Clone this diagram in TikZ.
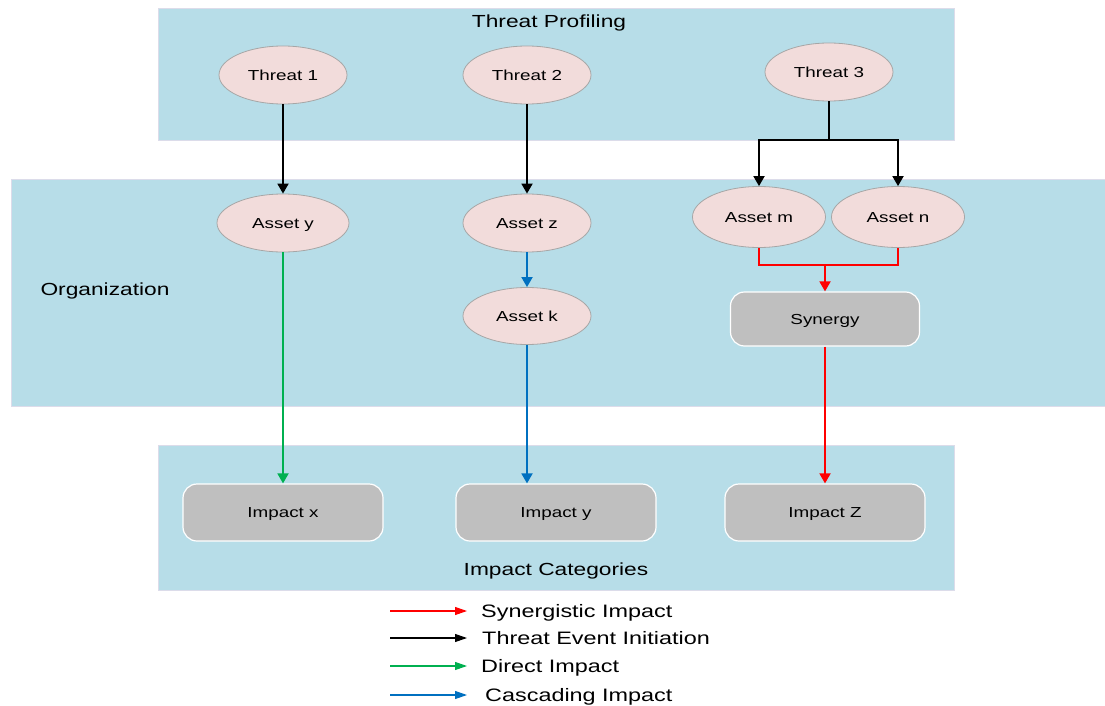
\documentclass[tikz,border=0pt]{standalone}
\usepackage{fontspec}
\setmainfont{Liberation Sans}[FakeStretch=1.3]
\usetikzlibrary{arrows.meta,shapes.geometric}
\definecolor{bandfill}{HTML}{B7DDE8}
\definecolor{bandline}{HTML}{DCDCEA}
\definecolor{assetfill}{HTML}{F2DCDB}
\definecolor{assetline}{HTML}{A6A6A6}
\definecolor{boxfill}{HTML}{BFBFBF}
\definecolor{synred}{HTML}{FF0000}
\definecolor{dirgreen}{HTML}{00B050}
\definecolor{casblue}{HTML}{0070C0}
\tikzset{
  bandbox/.style={rectangle, fill=bandfill, draw=bandline, line width=0.8pt, inner sep=0pt},
  bandtitle/.style={font=\fontsize{17.5}{20}\selectfont, inner sep=0pt, text height=12.5pt, text depth=0pt},
  assetnode/.style={ellipse, fill=assetfill, draw=assetline, line width=0.8pt,
    minimum width=128pt, minimum height=58pt, inner sep=0pt, text height=10.4pt, text depth=0pt,
    font=\fontsize{14.5}{17}\selectfont},
  grayboxnode/.style={rectangle, rounded corners=14pt, fill=boxfill, draw=white, line width=1.2pt,
    minimum width=200pt, minimum height=57pt, inner sep=0pt, text height=10.4pt, text depth=0pt,
    font=\fontsize{14.5}{17}\selectfont},
  flow/.style={line width=1.8pt, -{Triangle[length=10pt,width=11pt]}},
  flowline/.style={line width=1.8pt},
  keyarrow/.style={line width=1.1pt, -{Triangle[length=12pt,width=8pt]}},
  keytext/.style={anchor=west, inner sep=0pt, text height=13pt, text depth=0pt, font=\fontsize{18}{21}\selectfont},
}
\begin{document}
\begin{tikzpicture}[x=1pt,y=-1pt]
\useasboundingbox[fill=white] (0,0) rectangle (1105,706);

% background bands
\node[bandbox, minimum width=796pt, minimum height=132pt] (tpband) at (556,74) {};
\node[bandbox, minimum width=1094pt, minimum height=227pt] (orgband) at (558,292.5) {};
\node[bandbox, minimum width=796pt, minimum height=145pt] (icband) at (556,517.5) {};

\node[bandtitle] (tptitle) at (549,21) {Threat Profiling};
\node[bandtitle] (orgtitle) at (105,289) {Organization};
\node[bandtitle] (ictitle) at (556,569) {Impact Categories};

% threats
\node[assetnode] (t1) at (283,75) {Threat 1};
\node[assetnode] (t2) at (527,75) {Threat 2};
\node[assetnode] (t3) at (829,72) {Threat 3};

% assets
\node[assetnode, minimum width=132pt] (ay) at (283,223) {Asset y};
\node[assetnode] (az) at (527,223) {Asset z};
\node[assetnode, minimum height=57pt] (ak) at (527,316) {Asset k};
\node[assetnode, minimum width=133pt, minimum height=61pt] (am) at (759,217) {Asset m};
\node[assetnode, minimum width=133pt, minimum height=61pt] (an) at (898,217) {Asset n};

\node[grayboxnode, minimum width=189pt, minimum height=54pt] (syn) at (825,319) {Synergy};

% impacts
\node[grayboxnode] (ix) at (283,512.5) {Impact x};
\node[grayboxnode] (iy) at (556,512.5) {Impact y};
\node[grayboxnode] (iz) at (825,512.5) {Impact Z};

% threat event initiation
\draw[flow] (t1) -- (ay);
\draw[flow] (t2) -- (az);
\coordinate (split3) at (829,140);
\draw[flowline] (t3) -- (split3);
\draw[flow] (split3) -| (am);
\draw[flow] (split3) -| (an);

% synergistic impact
\coordinate (merge) at (825,265);
\draw[flowline, synred] (am) |- (merge);
\draw[flowline, synred] (an) |- (merge);
\draw[flow, synred] (merge) -- (syn);
\draw[flow, synred] (syn) -- (iz);

% direct impact
\draw[flow, dirgreen] (ay) -- (ix);

% cascading impact
\draw[flow, casblue] (az) -- (ak);
\draw[flow, casblue] (ak) -- (ak |- iy.north);

% legend
\coordinate (k1a) at (390,611); \coordinate (k1b) at (467,611);
\coordinate (k2a) at (390,638); \coordinate (k2b) at (467,638);
\coordinate (k3a) at (390,666); \coordinate (k3b) at (467,666);
\coordinate (k4a) at (390,695); \coordinate (k4b) at (467,695);
\draw[keyarrow, synred] (k1a) -- (k1b);
\draw[keyarrow, black] (k2a) -- (k2b);
\draw[keyarrow, dirgreen] (k3a) -- (k3b);
\draw[keyarrow, casblue] (k4a) -- (k4b);
\node[keytext] (k1t) at (481,611) {Synergistic Impact};
\node[keytext] (k2t) at (482,638) {Threat Event Initiation};
\node[keytext] (k3t) at (481,666) {Direct Impact};
\node[keytext] (k4t) at (485,695) {Cascading Impact};
\end{tikzpicture}
\end{document}
